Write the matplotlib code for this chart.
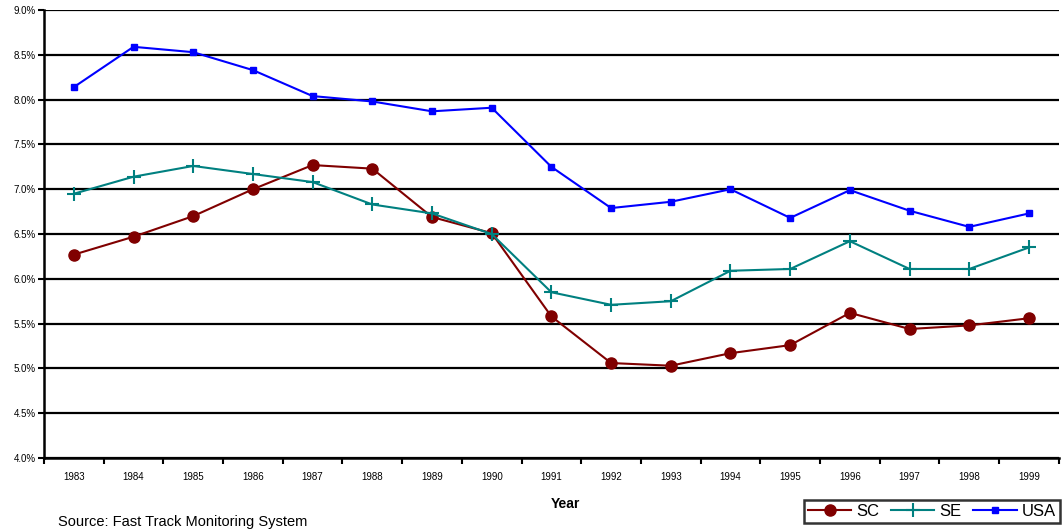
import matplotlib
matplotlib.use("Agg")
import matplotlib.pyplot as plt
from matplotlib.ticker import FixedLocator, FuncFormatter

plt.rcParams['font.family'] = ['Liberation Sans', 'DejaVu Sans']

years = [str(y) for y in range(1983, 2000)]
sc = [6.27, 6.47, 6.70, 7.00, 7.27, 7.23, 6.69, 6.51, 5.58, 5.06, 5.03, 5.17, 5.26, 5.62, 5.44, 5.48, 5.56]
se = [6.95, 7.14, 7.26, 7.17, 7.08, 6.83, 6.73, 6.50, 5.85, 5.71, 5.75, 6.09, 6.11, 6.42, 6.11, 6.11, 6.35]
usa = [8.14, 8.59, 8.53, 8.33, 8.04, 7.98, 7.87, 7.91, 7.25, 6.79, 6.86, 7.00, 6.68, 6.99, 6.76, 6.58, 6.73]
yticks = [4.0, 4.5, 5.0, 5.5, 6.0, 6.5, 7.0, 7.5, 8.0, 8.5, 9.0]

fig = plt.figure(figsize=(10.62, 5.31), dpi=100)
ax = fig.add_axes([0.0414, 0.1375, 0.9556, 0.8435])

x = list(range(len(years)))
ax.plot(x, sc, color='#800000', lw=1.5, marker='o', ms=8, label='SC', zorder=3)
ax.plot(x, se, color='#008080', lw=1.5, marker='+', ms=10, mew=1.5, label='SE', zorder=3)
ax.plot(x, usa, color='#0000FF', lw=1.5, marker='s', ms=4, label='USA', zorder=3)

ax.set_xlim(-0.5, len(years) - 0.5)
ax.set_ylim(4.0, 9.0)
ax.yaxis.set_major_locator(FixedLocator(yticks))
ax.yaxis.set_major_formatter(FuncFormatter(lambda v, p: f"{v:.1f}%"))
ax.grid(axis='y', color='black', lw=1.6)
ax.set_axisbelow(True)

ax.set_xticks(x)
ax.set_xticklabels(years)
ax.set_xticks([i - 0.5 for i in range(len(years) + 1)], minor=True)
ax.tick_params(axis='x', which='major', length=0, labelsize=7, pad=10)
ax.tick_params(axis='x', which='minor', length=4, width=1.5, direction='out')
ax.tick_params(axis='y', length=4, width=1.5, labelsize=7, pad=2)

for s in ['top', 'right']:
    ax.spines[s].set_visible(False)
ax.spines['left'].set_linewidth(1.8)
ax.spines['bottom'].set_linewidth(1.8)

fig.text(0.532, 0.05, 'Year', ha='center', va='center', fontsize=10, fontweight='bold')
fig.text(0.055, 0.017, 'Source: Fast Track Monitoring System', ha='left', va='center', fontsize=10.5)

leg = fig.legend(loc='lower right', bbox_to_anchor=(0.998, 0.015), ncol=3, frameon=True,
                 fancybox=False, edgecolor='black', fontsize=12, handlelength=2.6,
                 handletextpad=0.3, columnspacing=0.7, borderpad=0.25, borderaxespad=0)
leg.get_frame().set_linewidth(1.8)

fig.savefig('out.png', dpi=100)
